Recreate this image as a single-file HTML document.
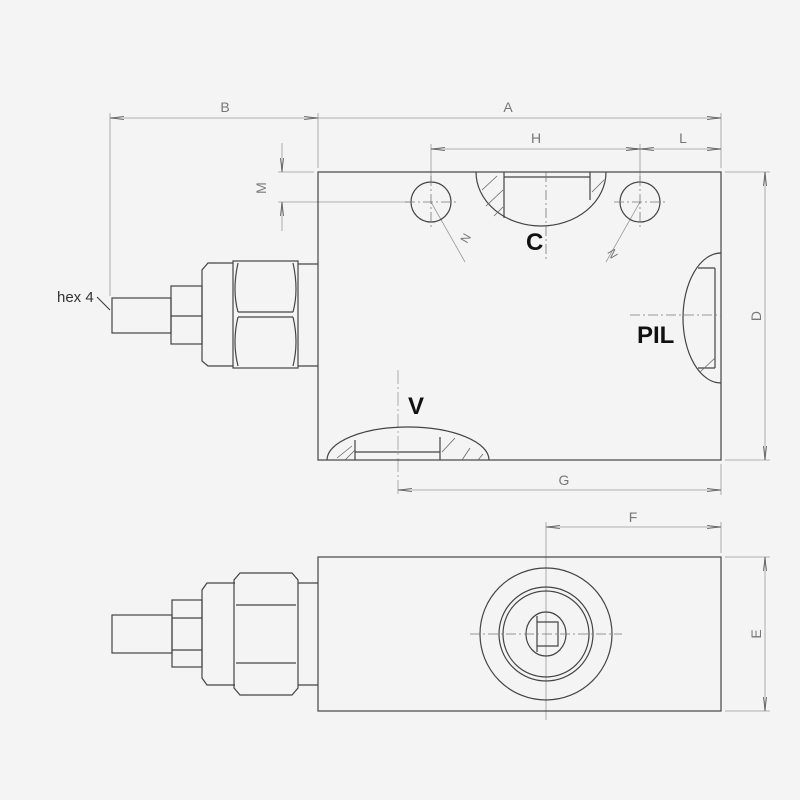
<!DOCTYPE html>
<html><head><style>html,body{margin:0;padding:0;background:#f4f4f4}svg{display:block}</style></head>
<body>
<svg width="800" height="800" viewBox="0 0 800 800" xmlns="http://www.w3.org/2000/svg" font-family="Liberation Sans, sans-serif">
<rect width="800" height="800" fill="#f4f4f4"/>
<defs>
<marker id="ar" markerWidth="14" markerHeight="6" refX="14" refY="3" orient="auto" markerUnits="userSpaceOnUse"><path d="M0,1.5 L14,3 L0,4.5" fill="none" stroke="#555" stroke-width="0.8"/></marker>
<marker id="as" markerWidth="14" markerHeight="6" refX="0" refY="3" orient="auto" markerUnits="userSpaceOnUse"><path d="M14,1.5 L0,3 L14,4.5" fill="none" stroke="#555" stroke-width="0.8"/></marker>
</defs>
<g stroke="#999" stroke-width="0.8" fill="none">
<line x1="110" y1="113" x2="110" y2="296"/>
<line x1="318" y1="113" x2="318" y2="168"/>
<line x1="721" y1="113" x2="721" y2="168"/>
<line x1="431" y1="144" x2="431" y2="182"/>
<line x1="640" y1="144" x2="640" y2="182"/>
<line x1="725" y1="172" x2="770" y2="172"/>
<line x1="725" y1="460" x2="770" y2="460"/>
<line x1="721" y1="464" x2="721" y2="495"/>
<line x1="398" y1="370" x2="398" y2="495" stroke-dasharray="14,3,2,3"/>
<line x1="278" y1="172" x2="314" y2="172"/>
<line x1="278" y1="202" x2="410" y2="202"/>
<line x1="110" y1="118" x2="318" y2="118" marker-start="url(#as)" marker-end="url(#ar)"/>
<line x1="318" y1="118" x2="721" y2="118" marker-end="url(#ar)"/>
<line x1="431" y1="149" x2="640" y2="149" marker-start="url(#as)" marker-end="url(#ar)"/>
<line x1="640" y1="149" x2="721" y2="149" marker-start="url(#as)" marker-end="url(#ar)"/>
<line x1="765" y1="172" x2="765" y2="460" marker-start="url(#as)" marker-end="url(#ar)"/>
<line x1="398" y1="490" x2="721" y2="490" marker-start="url(#as)" marker-end="url(#ar)"/>
<line x1="282" y1="143" x2="282" y2="172" marker-end="url(#ar)"/>
<line x1="282" y1="231" x2="282" y2="202" marker-end="url(#ar)"/>
<line x1="546" y1="522" x2="546" y2="720"/>
<line x1="721" y1="522" x2="721" y2="553"/>
<line x1="546" y1="527" x2="721" y2="527" marker-start="url(#as)" marker-end="url(#ar)"/>
<line x1="725" y1="557" x2="770" y2="557"/>
<line x1="725" y1="711" x2="770" y2="711"/>
<line x1="765" y1="557" x2="765" y2="711" marker-start="url(#as)" marker-end="url(#ar)"/>
<line x1="431" y1="202" x2="465" y2="262"/>
<line x1="640" y1="202" x2="606" y2="262"/>
</g>
<g fill="#777" font-size="14">
<text x="225" y="112" text-anchor="middle">B</text>
<text x="508" y="112" text-anchor="middle">A</text>
<text x="536" y="143" text-anchor="middle">H</text>
<text x="683" y="143" text-anchor="middle">L</text>
<text x="564" y="485" text-anchor="middle">G</text>
<text x="633" y="522" text-anchor="middle">F</text>
<text transform="translate(761,316) rotate(-90)" text-anchor="middle">D</text>
<text transform="translate(761,634) rotate(-90)" text-anchor="middle">E</text>
<text transform="translate(266,188) rotate(-90)" text-anchor="middle">M</text>
<text transform="translate(467,244) rotate(-60)" font-size="12">N</text>
<text transform="translate(607,252) rotate(60)" font-size="12">N</text>
</g>
<text x="57" y="302" font-size="15" fill="#333">hex 4</text>
<line x1="97" y1="297" x2="110" y2="310" stroke="#333" stroke-width="1"/>
<g stroke="#444" stroke-width="1.2" fill="none">
<rect x="318" y="172" width="403" height="288"/>
<circle cx="431" cy="202" r="20"/>
<circle cx="640" cy="202" r="20"/>
<path d="M476,172 A65,54 0 0 0 606,172"/>
<path d="M504,172 L504,218 M590,172 L590,200 M504,177 L590,177"/>
<path d="M721,253 A38,65 0 0 0 721,383"/>
<path d="M715,268 L715,368 M698,268 L715,268 M698,368 L715,368"/>
<path d="M327,460 A81,33 0 0 1 489,460"/>
<path d="M355,452 L440,452 M355,440 L355,460 M440,437 L440,460"/>
<rect x="112" y="298" width="59" height="35"/>
<rect x="171" y="286" width="31" height="58"/><line x1="171" y1="316" x2="202" y2="316"/>
<path d="M233,263 L208,263 L202,270 L202,361 L208,366 L233,366"/>
<rect x="233" y="261" width="65" height="107"/>
<path d="M238,263 Q232,290 238,312 M293,263 Q299,290 293,312 M238,317 Q232,342 238,366 M293,317 Q299,342 293,366 M238,312 L293,312 M238,317 L293,317"/>
<path d="M298,264 L318,264 M298,366 L318,366"/>
<rect x="318" y="557" width="403" height="154"/>
<ellipse cx="546" cy="634" rx="66" ry="66"/>
<ellipse cx="546" cy="634" rx="47" ry="47"/>
<ellipse cx="546" cy="634" rx="43" ry="43"/>
<ellipse cx="546" cy="634" rx="20" ry="22"/>
<path d="M537,616 L537,652 M537,622 L558,622 L558,646 L537,646"/>
<rect x="112" y="615" width="60" height="38"/>
<rect x="172" y="600" width="30" height="67"/><line x1="172" y1="618" x2="202" y2="618"/><line x1="172" y1="650" x2="202" y2="650"/>
<path d="M235,583 L207,583 L202,590 L202,678 L207,685 L235,685"/>
<path d="M240,573 L292,573 L298,580 L298,688 L292,695 L240,695 L234,688 L234,580 Z"/>
<path d="M236,605 L296,605 M236,663 L296,663"/>
<path d="M298,583 L318,583 M298,685 L318,685"/>
</g>
<g stroke="#777" stroke-width="0.8" fill="none" stroke-dasharray="10,3,2,3">
<line x1="405" y1="202" x2="457" y2="202"/><line x1="431" y1="176" x2="431" y2="228"/>
<line x1="614" y1="202" x2="666" y2="202"/><line x1="640" y1="176" x2="640" y2="228"/>
<line x1="546" y1="172" x2="546" y2="262"/>
<line x1="630" y1="315" x2="721" y2="315"/>
<line x1="470" y1="634" x2="622" y2="634"/>
</g>
<g stroke="#666" stroke-width="0.8">
<path d="M482,190 L497,176 M486,206 L503,190 M494,216 L503,207 M592,192 L604,180"/>
<path d="M337,458 L352,446 M345,460 L355,450 M442,452 L455,438 M462,460 L470,448 M478,460 L483,454"/>
<path d="M700,372 L715,358"/>
</g>
<g fill="#111" font-weight="bold" font-size="24">
<text x="526" y="250">C</text>
<text x="637" y="343">PIL</text>
<text x="408" y="414">V</text>
</g>
</svg>
</body></html>
